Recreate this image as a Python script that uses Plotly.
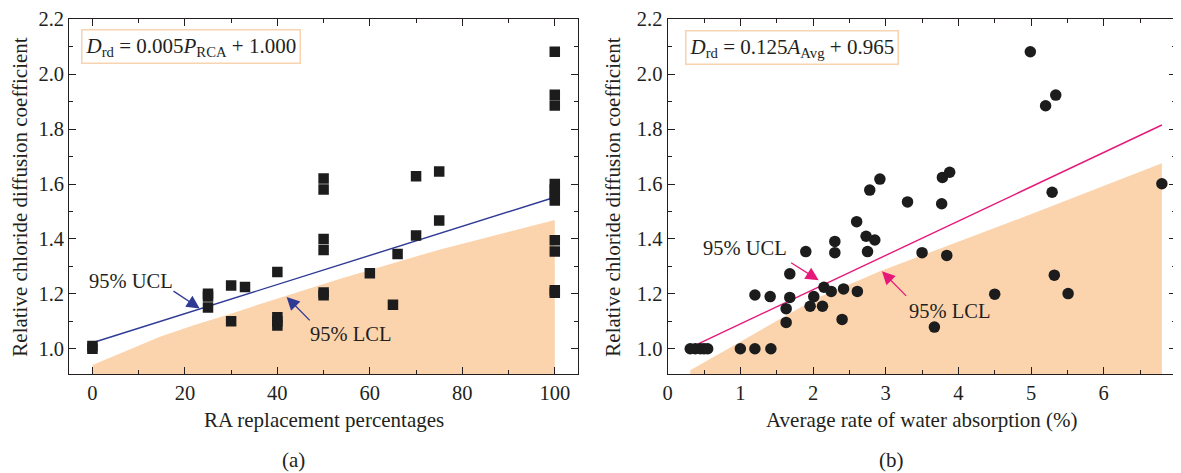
import plotly.graph_objects as go

# page body has an 8px default margin: draw the figure slightly smaller and shift coordinates
OFF = 8
W, H = 1181 - OFF, 473 - OFF

# ---------------- data: panel (a) ----------------
ra_pct = [0, 0, 25, 25, 25, 30, 30, 33, 40, 40, 40, 40,
          50, 50, 50, 50, 50, 50, 60, 65, 66, 70, 70, 75, 75,
          100, 100, 100, 100, 100, 100, 100, 100, 100, 100, 100]
ra_drd = [1.00, 1.01, 1.20, 1.19, 1.15, 1.23, 1.10, 1.225, 1.28, 1.115, 1.10, 1.085,
          1.62, 1.58, 1.40, 1.36, 1.205, 1.195, 1.275, 1.16, 1.345, 1.628, 1.413, 1.646, 1.467,
          2.082, 1.925, 1.886, 1.60, 1.58, 1.56, 1.54, 1.395, 1.354, 1.213, 1.204]
ra_fit_x = [0, 100]
ra_fit_y = [1.022, 1.552]
ra_lcl_x = [0, 7.4, 14.6, 21.9, 29.1, 36.3, 53.6, 75.2, 100]
ra_lcl_y = [0.941, 0.993, 1.044, 1.086, 1.123, 1.163, 1.255, 1.362, 1.469]

# ---------------- data: panel (b) ----------------
wa_avg = [0.31, 0.38, 0.45, 0.50, 0.55, 1.00, 1.20, 1.42, 1.20, 1.41,
          1.63, 1.63, 1.68, 1.68, 1.90, 1.96, 2.01, 2.13, 2.15, 2.25,
          2.30, 2.30, 2.40, 2.42, 2.60, 2.61, 2.73, 2.75, 2.78, 2.85,
          2.92, 3.30, 3.50, 3.67, 3.77, 3.78, 3.84, 3.88, 4.50, 4.99,
          5.20, 5.34, 5.29, 5.32, 5.51, 6.80]
wa_drd = [1.00, 1.00, 1.00, 1.00, 1.00, 1.00, 1.00, 1.00, 1.196, 1.19,
          1.096, 1.146, 1.273, 1.187, 1.354, 1.155, 1.19, 1.155, 1.224, 1.209,
          1.391, 1.35, 1.107, 1.218, 1.463, 1.209, 1.41, 1.354, 1.578, 1.396,
          1.618, 1.535, 1.35, 1.079, 1.528, 1.624, 1.34, 1.643, 1.199, 2.082,
          1.885, 1.924, 1.57, 1.268, 1.201, 1.601]
wa_fit_x = [0.31, 6.80]
wa_fit_y = [1.004, 1.815]
wa_lcl_x = [0.31, 1.00, 1.61, 2.05, 2.65, 2.92, 4.75, 6.80]
wa_lcl_y = [0.922, 1.026, 1.117, 1.184, 1.251, 1.282, 1.465, 1.676]

x_ticks_a = [0, 20, 40, 60, 80, 100]
x_ticks_b = [0, 1, 2, 3, 4, 5, 6, 7]
y_ticks = [1.0, 1.2, 1.4, 1.6, 1.8, 2.0, 2.2]

Y_MIN = 0.907
SHADE = "#fbd4ae"
BLUE = "#2e3a94"
PINK = "#e6197a"
INK = "#231f20"
FONT = "Liberation Serif"
TICK_SIZE = 20.5
LABEL_SIZE = 21

fig = go.Figure()

# panel (a)
fig.add_trace(go.Scatter(
    x=[ra_lcl_x[0]] + ra_lcl_x + [ra_lcl_x[-1]],
    y=[Y_MIN] + ra_lcl_y + [Y_MIN],
    fill="toself", fillcolor=SHADE, line=dict(width=0), mode="lines",
    hoverinfo="skip", showlegend=False, xaxis="x", yaxis="y"))
fig.add_trace(go.Scatter(x=ra_fit_x, y=ra_fit_y, mode="lines",
                         line=dict(color=BLUE, width=1.4), showlegend=False,
                         xaxis="x", yaxis="y"))
fig.add_trace(go.Scatter(x=ra_pct, y=ra_drd, mode="markers",
                         marker=dict(symbol="square", size=10.5, color="#1c1c1c",
                                     line=dict(width=0)),
                         showlegend=False, xaxis="x", yaxis="y"))

# panel (b)
fig.add_trace(go.Scatter(
    x=[wa_lcl_x[0]] + wa_lcl_x + [wa_lcl_x[-1]],
    y=[Y_MIN] + wa_lcl_y + [Y_MIN],
    fill="toself", fillcolor=SHADE, line=dict(width=0), mode="lines",
    hoverinfo="skip", showlegend=False, xaxis="x2", yaxis="y2"))
fig.add_trace(go.Scatter(x=wa_fit_x, y=wa_fit_y, mode="lines",
                         line=dict(color=PINK, width=1.4), showlegend=False,
                         xaxis="x2", yaxis="y2"))
fig.add_trace(go.Scatter(x=wa_avg, y=wa_drd, mode="markers",
                         marker=dict(symbol="circle", size=11.5, color="#1c1c1c",
                                     line=dict(width=0)),
                         showlegend=False, xaxis="x2", yaxis="y2"))

axis_common = dict(
    showgrid=False, zeroline=False, showline=True, linecolor=INK, linewidth=1.3,
    mirror="ticks", ticks="inside", ticklen=7, tickwidth=1.2, tickcolor=INK,
    tickfont=dict(family=FONT, size=TICK_SIZE, color=INK), automargin=False,
)


def px2paper_x(px):
    return (px - OFF) / W


def px2paper_y(py):
    return 1 - (py - OFF) / H


ydom = [px2paper_y(374.3), px2paper_y(19.3)]
minor_common = dict(ticks="inside", ticklen=4, tickcolor=INK, tickwidth=1.1)

fig.update_layout(
    width=W, height=H, margin=dict(l=0, r=0, t=0, b=0),
    paper_bgcolor="white", plot_bgcolor="white",
    font=dict(family=FONT, color=INK),
    xaxis=dict(axis_common, domain=[px2paper_x(69.3), px2paper_x(577.9)],
               range=[-5, 105], tickvals=x_ticks_a, anchor="y",
               minor=dict(minor_common, dtick=10)),
    yaxis=dict(axis_common, domain=ydom, range=[Y_MIN, 2.2], tickvals=y_ticks,
               tickformat=".1f", anchor="x",
               minor=dict(minor_common, dtick=0.1, tick0=0)),
    xaxis2=dict(axis_common, domain=[px2paper_x(667.7), px2paper_x(1176.4)],
                range=[0, 7], tickvals=x_ticks_b, anchor="y2",
                minor=dict(minor_common, dtick=0.5)),
    yaxis2=dict(axis_common, domain=ydom, range=[Y_MIN, 2.2], tickvals=y_ticks,
                tickformat=".1f", anchor="x2",
                minor=dict(minor_common, dtick=0.1, tick0=0)),
)

ann = []
# equation boxes
ann.append(dict(xref="paper", yref="paper", x=px2paper_x(81), y=px2paper_y(29),
                xanchor="left", yanchor="top", showarrow=False,
                text="<i>D</i><sub>rd</sub> = 0.005<i>P</i><sub>RCA</sub> + 1.000",
                font=dict(family=FONT, size=21, color=INK),
                bordercolor="#f8d3b0", borderwidth=1.5, borderpad=3, bgcolor="white"))
ann.append(dict(xref="paper", yref="paper", x=px2paper_x(684.6), y=px2paper_y(30),
                xanchor="left", yanchor="top", showarrow=False,
                text="<i>D</i><sub>rd</sub> = 0.125<i>A</i><sub>Avg</sub> + 0.965",
                font=dict(family=FONT, size=21, color=INK),
                bordercolor="#f8d3b0", borderwidth=1.5, borderpad=3, bgcolor="white"))


def arrow(xr, yr, x, y, ax, ay, color):
    return dict(xref=xr, yref=yr, x=x, y=y, ax=ax, ay=ay, axref="pixel", ayref="pixel",
                text="", showarrow=True, arrowhead=2, arrowsize=2.0, arrowwidth=1.3,
                arrowcolor=color, standoff=0)


ann.append(arrow("x", "y", 23.2, 1.147, -27.7, -18.3, BLUE))
ann.append(arrow("x", "y", 42.0, 1.189, 24.6, 25, BLUE))
ann.append(arrow("x2", "y2", 2.078, 1.25, -29.1, -18.3, PINK))
ann.append(arrow("x2", "y2", 2.948, 1.282, 25.7, 26, PINK))


def label(cx, cy, text, size=LABEL_SIZE, angle=0):
    return dict(xref="paper", yref="paper", x=px2paper_x(cx), y=px2paper_y(cy),
                xanchor="center", yanchor="middle", showarrow=False, text=text,
                textangle=angle, font=dict(family=FONT, size=size, color=INK))


ann.append(label(130.5, 281, "95% UCL", size=20.5))
ann.append(label(350, 334, "95% LCL", size=20.5))
ann.append(label(745, 248, "95% UCL", size=20.5))
ann.append(label(949, 310.7, "95% LCL", size=20.5))

ann.append(label(324, 420, "RA replacement percentages"))
ann.append(label(922, 420, "Average rate of water absorption (%)"))
ann.append(label(19.7, 197, "Relative chloride diffusion coefficient", angle=-90))
ann.append(label(612.7, 197, "Relative chloride diffusion coefficient", angle=-90))
ann.append(label(293, 460, "(a)"))
ann.append(label(891.4, 460, "(b)"))

fig.update_layout(annotations=ann)

fig.write_html("out.html")
